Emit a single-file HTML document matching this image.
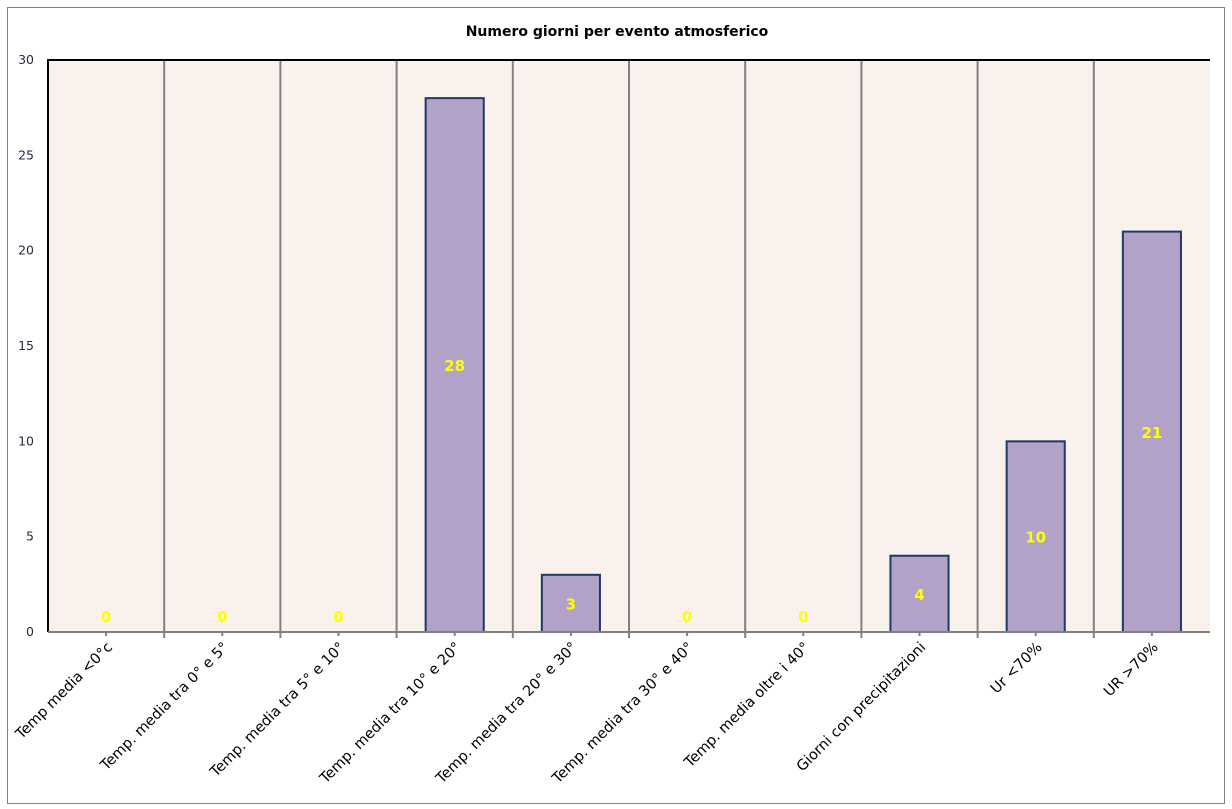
<!DOCTYPE html>
<html><head><meta charset="utf-8"><style>
body{margin:0;background:#fff;}
svg{display:block;font-family:"DejaVu Sans","Liberation Sans",sans-serif;}
</style></head><body>
<svg id="chart" width="1232" height="809">
<defs><pattern id="pt" width="4" height="4" patternUnits="userSpaceOnUse"><rect width="4" height="4" fill="#f6f5f4"/><rect width="1" height="1" fill="#efe3dc"/><rect x="2" y="2" width="1" height="1" fill="#efe3dc"/></pattern></defs>
<rect x="7.5" y="7.5" width="1217" height="796" fill="#fff" stroke="#808080"/>
<text x="617" y="36" text-anchor="middle" font-weight="bold" font-size="14" fill="#000">Numero giorni  per evento atmosferico</text>
<rect x="48" y="60" width="1162" height="572" fill="url(#pt)"/>
<g id="grid"></g><g id="bars"></g><g id="ylab"></g><g id="xlab"></g>
<path d="M48,632 V60 H1210" fill="none" stroke="#000" stroke-width="2"/>
<line x1="48" y1="632" x2="1210" y2="632" stroke="#808080" stroke-width="2"/>
</svg>
<script>
const categories=["Temp media <0°c","Temp. media tra 0° e 5°","Temp. media tra 5° e 10°","Temp. media tra 10° e 20°","Temp. media tra 20° e 30°","Temp. media tra 30° e 40°","Temp. media oltre i 40°","Giorni con precipitazioni","Ur  <70%","UR >70%"];
const values=[0,0,0,28,3,0,0,4,10,21];
const yTicks=[0,5,10,15,20,25,30];
const NS="http://www.w3.org/2000/svg";
const L=48,R=1210,T=60,B=632,YMAX=30;
const cw=(R-L)/categories.length;
const y=v=>B-(v/YMAX)*(B-T);
const xc=i=>L+cw*(i+0.5);
function mk(tag,attrs,parent){const e=document.createElementNS(NS,tag);for(const k in attrs)e.setAttribute(k,attrs[k]);document.getElementById(parent).appendChild(e);return e;}
for(let i=1;i<categories.length;i++){
 const g=mk("line",{x1:L+cw*i,x2:L+cw*i,y1:T,y2:B+6,stroke:"#808080","stroke-width":2},"grid");
 
 
}
yTicks.forEach(t=>{
 const e=mk("text",{x:34,y:y(t)+4,"text-anchor":"end","font-size":12.5,fill:"#1f2a44"},"ylab");
 e.textContent=t;
 
 
});
categories.forEach((c,i)=>{
 const v=values[i];
 if(v>0){
  const r=mk("rect",{x:xc(i)-cw/4,y:y(v),width:cw/2,height:B-y(v),fill:"#b3a2c7",stroke:"#1f3864","stroke-width":2},"bars");
  
  
 }
 const ly=v>0?(y(v)+B)/2+6:B-10;
 const t=mk("text",{x:xc(i),y:ly,"text-anchor":"middle","font-size":15,"font-weight":"bold",fill:"#ffff00"},"bars");
 t.textContent=v;
 
 
 const tk=mk("line",{x1:xc(i),x2:xc(i),y1:B,y2:B+4,stroke:"#808080","stroke-width":2},"grid");
 
 
 const xl=mk("text",{x:0,y:0,"text-anchor":"end","font-size":14.5,fill:"#000",transform:`translate(${xc(i)+7},${B+16}) rotate(-45)`},"xlab");
 xl.textContent=c;
 
 
});
</script>
</body></html>
